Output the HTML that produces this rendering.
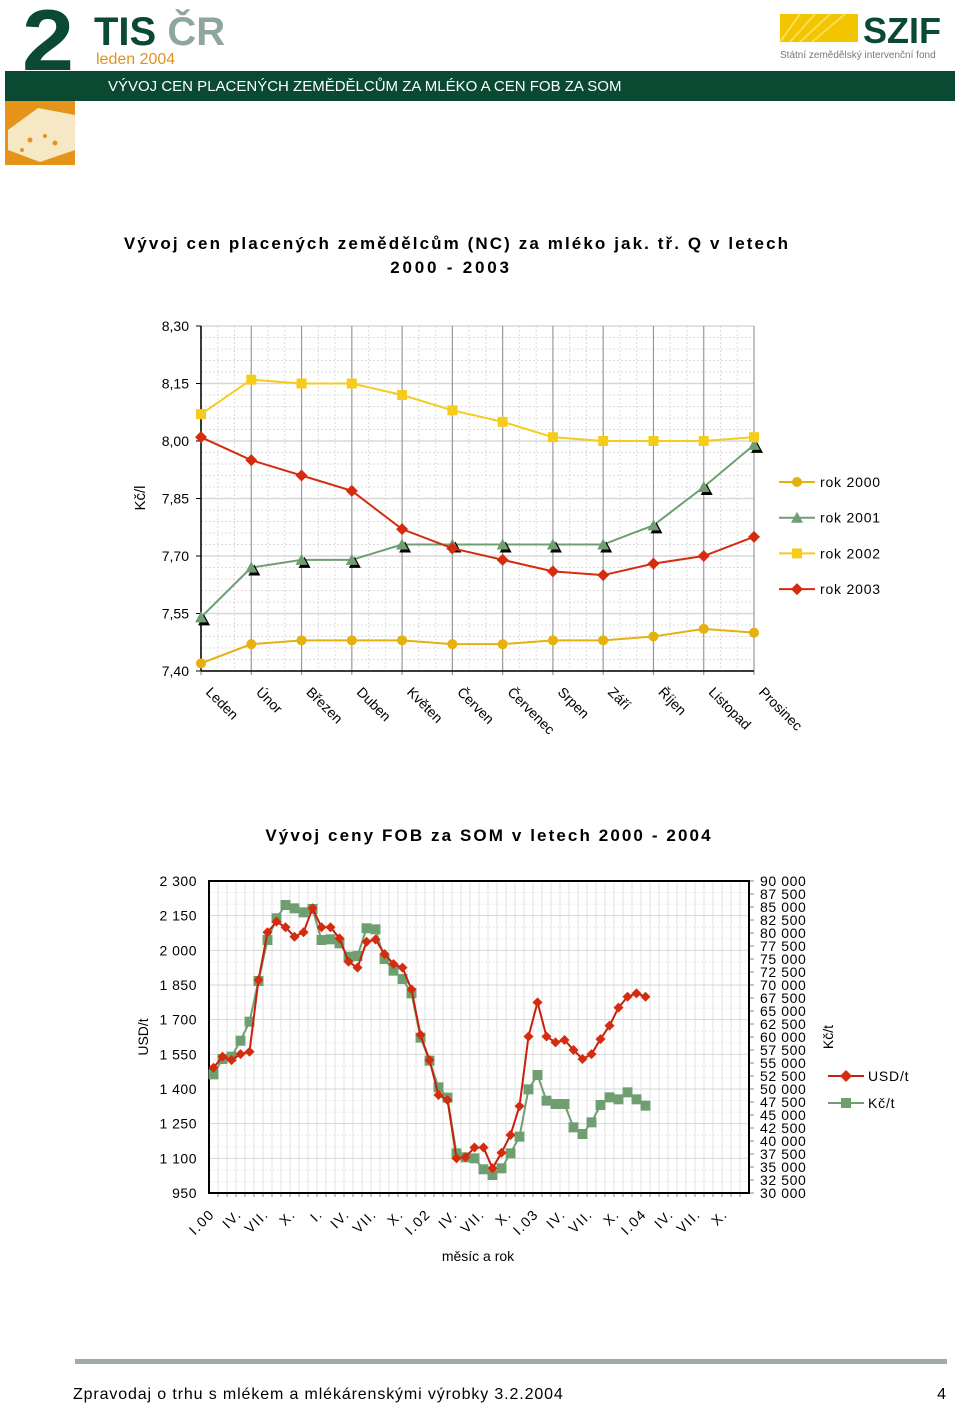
<!DOCTYPE html>
<html><head><meta charset="utf-8">
<style>
html,body{margin:0;padding:0;background:#fff;}
body{width:960px;height:1405px;position:relative;overflow:hidden;font-family:"Liberation Sans",sans-serif;}
svg text{font-family:"Liberation Sans",sans-serif;}
</style></head>
<body>
<svg id="page" width="960" height="1405" viewBox="0 0 960 1405" xmlns="http://www.w3.org/2000/svg">
  <g>
    <text x="22" y="70" font-size="86" font-weight="bold" fill="#0b4a32" textLength="52" lengthAdjust="spacingAndGlyphs">2</text>
    <text x="94" y="45" font-size="40" font-weight="bold" fill="#0b4a32">TIS <tspan fill="#8fa5a0">ČR</tspan></text>
    <text x="96" y="64" font-size="16" fill="#e0921e">leden 2004</text>
    <rect x="5" y="71" width="950" height="30" fill="#0b4a32"/>
    <text x="108" y="91" font-size="15" fill="#fff">VÝVOJ CEN PLACENÝCH ZEMĚDĚLCŮM ZA MLÉKO A CEN FOB ZA SOM</text>
    <rect x="5" y="101" width="70" height="64" fill="#e59419"/>
    <polygon points="8,130 38,108 75,115 75,150 40,162 8,150" fill="#f6e7c5"/>
    <circle cx="30" cy="140" r="2.5" fill="#e59419"/><circle cx="45" cy="136" r="2" fill="#e59419"/><circle cx="55" cy="143" r="2.5" fill="#e59419"/><circle cx="22" cy="150" r="2" fill="#e59419"/>
    <rect x="780" y="14" width="78" height="28" fill="#f2c500"/>
    <path d="M780 42 L800 14 M790 42 L815 14 M800 42 L830 14 M812 42 L845 14" stroke="#f8dd55" stroke-width="2"/>
    <text x="863" y="43" font-size="36" font-weight="bold" fill="#0b4a32">SZIF</text>
    <text x="780" y="58" font-size="10" fill="#777">Státní zemědělský intervenční fond</text>
  </g>

  <g id="chart1">
    <text x="457" y="249" font-size="17" font-weight="bold" text-anchor="middle" letter-spacing="2.1">Vývoj cen placených zemědělcům (NC) za mléko jak. tř. Q v letech</text>
    <text x="451" y="273" font-size="17" font-weight="bold" text-anchor="middle" letter-spacing="2.8">2000 - 2003</text>
    <text transform="translate(145,498) rotate(-90)" font-size="15" text-anchor="middle">Kč/l</text>
  </g>

  <g id="chart2">
    <text x="489" y="841" font-size="17" font-weight="bold" text-anchor="middle" letter-spacing="2.1">Vývoj ceny FOB za SOM v letech 2000 - 2004</text>
    <text transform="translate(148,1037) rotate(-90)" font-size="14" text-anchor="middle">USD/t</text>
    <text transform="translate(833,1037) rotate(-90)" font-size="14" text-anchor="middle">Kč/t</text>
    <text x="478" y="1261" font-size="14" text-anchor="middle">měsíc a rok</text>
  </g>

  <g>
    <rect x="75" y="1359" width="872" height="5" fill="#a0aaa8"/>
    <text x="73" y="1399" font-size="16" letter-spacing="0.87">Zpravodaj o trhu s mlékem a mlékárenskými výrobky 3.2.2004</text>
    <text x="946" y="1399" font-size="16" text-anchor="end">4</text>
  </g>
</svg>
<script>
// ---------- Chart 1 data ----------
const months1 = ["Leden","Únor","Březen","Duben","Květen","Červen","Červenec","Srpen","Září","Říjen","Listopad","Prosinec"];
const y1Ticks = ["7,40","7,55","7,70","7,85","8,00","8,15","8,30"];
const s2000 = [7.42,7.47,7.48,7.48,7.48,7.47,7.47,7.48,7.48,7.49,7.51,7.50];
const s2001 = [7.54,7.67,7.69,7.69,7.73,7.73,7.73,7.73,7.73,7.78,7.88,7.99];
const s2002 = [8.07,8.16,8.15,8.15,8.12,8.08,8.05,8.01,8.00,8.00,8.00,8.01];
const s2003 = [8.01,7.95,7.91,7.87,7.77,7.72,7.69,7.66,7.65,7.68,7.70,7.75];
// ---------- Chart 2 data ----------
const xLabels2 = ["I.00","IV.","VII.","X.","I.","IV.","VII.","X.","I.02","IV.","VII.","X.","I.03","IV.","VII.","X.","I.04","IV.","VII.","X."];
const usdTicks = ["950","1 100","1 250","1 400","1 550","1 700","1 850","2 000","2 150","2 300"];
const czkTicks = ["30 000","32 500","35 000","37 500","40 000","42 500","45 000","47 500","50 000","52 500","55 000","57 500","60 000","62 500","65 000","67 500","70 000","72 500","75 000","77 500","80 000","82 500","85 000","87 500","90 000"];
const usd = [1492,1540,1525,1551,1561,1872,2078,2124,2100,2059,2078,2182,2100,2100,2052,1951,1925,2037,2047,1984,1941,1925,1831,1634,1525,1374,1352,1100,1105,1147,1147,1057,1124,1201,1326,1627,1775,1627,1602,1612,1569,1530,1551,1616,1674,1752,1799,1814,1799];
const czk = [52821,55769,56218,59288,62943,70769,78654,82821,85385,84744,83974,84615,78654,78782,78013,75449,75577,80910,80705,75000,72756,71154,68397,59872,55449,50321,48333,37628,36859,36667,34551,33462,34744,37628,40833,49936,52692,47756,47115,47115,42628,41346,43590,46923,48397,48013,49359,48013,46795];

const NS="http://www.w3.org/2000/svg";
function mk(parent,tag,attrs){const e=document.createElementNS(NS,tag);for(const k in attrs)e.setAttribute(k,attrs[k]);parent.appendChild(e);return e;}

// ---------- Chart 1 ----------
(function(){
  const g=document.getElementById('chart1');
  const L=201,R=754,T=326,B=671,vmin=7.40,vmax=8.30;
  const x=i=>L+i*(R-L)/(months1.length-1);
  const y=v=>B-(v-vmin)/(vmax-vmin)*(B-T);
  for(let v=vmin;v<=vmax+1e-9;v+=0.03){
    const l=mk(g,'line',{x1:L,x2:R,y1:y(v),y2:y(v),stroke:'#dcdcdc','stroke-dasharray':'2,2','stroke-width':1});
    
    
  }
  for(let i=0;i<months1.length-1;i++){
    for(let k=1;k<3;k++){
      const xx=x(i)+k*(x(1)-x(0))/3;
      const l=mk(g,'line',{x1:xx,x2:xx,y1:T,y2:B,stroke:'#dcdcdc','stroke-dasharray':'2,2'});
      
      
    }
  }
  y1Ticks.forEach(t=>{
    const v=parseFloat(t.replace(',','.'));
    const l=mk(g,'line',{x1:L,x2:R,y1:y(v),y2:y(v),stroke:'#d8d8d8','stroke-width':1.5});
    
    
    const tk=mk(g,'line',{x1:L-5,x2:L,y1:y(v),y2:y(v),stroke:'#000'});
    
    
    const tx=mk(g,'text',{x:189,y:y(v)+5,'font-size':14,'text-anchor':'end'});
    tx.textContent=t;
    
    
  });
  months1.forEach((m,i)=>{
    const l=mk(g,'line',{x1:x(i),x2:x(i),y1:T,y2:B+4,stroke:'#999','stroke-width':1.2});
    
    
    const tx=mk(g,'text',{transform:`translate(${x(i)+4},${B+22}) rotate(45)`,'font-size':14});
    tx.textContent=m;
    
    
  });
  const ax=mk(g,'line',{x1:L,x2:L,y1:T,y2:B,stroke:'#000','stroke-width':1.5});
  
  
  const bx=mk(g,'line',{x1:L,x2:R,y1:B,y2:B,stroke:'#000','stroke-width':1.5});
  
  

  function series(data,color,shape,name){
    const pl=mk(g,'polyline',{points:data.map((v,i)=>x(i)+','+y(v)).join(' '),fill:'none',stroke:color,'stroke-width':2});
    
    
    data.forEach((v,i)=>{drawMarker(g,shape,x(i),y(v),color,name);});
  }
  series(s2000,'#e5b10c','circle','rok-2000');
  series(s2001,'#6f9f70','triangle','rok-2001');
  series(s2002,'#f6cc1b','square','rok-2002');
  series(s2003,'#d52b0e','diamond','rok-2003');

  const leg=[['rok 2000','#e5b10c','circle'],['rok 2001','#6f9f70','triangle2'],['rok 2002','#f6cc1b','square'],['rok 2003','#d52b0e','diamond']];
  leg.forEach((d,i)=>{
    const yy=482+i*35.7;
    const l=mk(g,'line',{x1:779,x2:815,y1:yy,y2:yy,stroke:d[1],'stroke-width':2});
    
    
    drawMarker(g,d[2],797,yy,d[1],'legend');
    const tx=mk(g,'text',{x:820,y:yy+5,'font-size':14,'letter-spacing':0.8});
    tx.textContent=d[0];
    
    
  });
})();

function drawMarker(g,shape,cx,cy,color,name){
  let e;
  if(shape==='circle'){e=mk(g,'circle',{cx:cx,cy:cy,r:5,fill:color});}
  else if(shape==='square'){e=mk(g,'rect',{x:cx-5,y:cy-5,width:10,height:10,fill:color});}
  else if(shape==='diamond'){e=mk(g,'polygon',{points:`${cx},${cy-6} ${cx+6},${cy} ${cx},${cy+6} ${cx-6},${cy}`,fill:color});}
  else if(shape==='triangle'){
    const s=mk(g,'polygon',{points:`${cx+3},${cy-3} ${cx+9},${cy+8} ${cx-3},${cy+8}`,fill:'#000'});
    
    
    e=mk(g,'polygon',{points:`${cx},${cy-6} ${cx+6},${cy+5} ${cx-6},${cy+5}`,fill:color});
  }
  else if(shape==='triangle2'){e=mk(g,'polygon',{points:`${cx},${cy-6} ${cx+6},${cy+5} ${cx-6},${cy+5}`,fill:color});}
  
  
}

// ---------- Chart 2 ----------
(function(){
  const g=document.getElementById('chart2');
  const L=209,R=749,T=881,B=1193,nCat=60,umin=950,umax=2300,cmin=30000,cmax=90000;
  const cw=(R-L)/nCat;
  const x=i=>L+cw*(i+0.5);
  const yU=v=>B-(v-umin)/(umax-umin)*(B-T);
  const yC=v=>B-(v-cmin)/(cmax-cmin)*(B-T);
  for(let i=1;i<nCat;i++){
    const l=mk(g,'line',{x1:L+i*cw,x2:L+i*cw,y1:T,y2:B,stroke:'#e2e2e2'});
    
    
    const tk=mk(g,'line',{x1:L+i*cw,x2:L+i*cw,y1:B,y2:B+4,stroke:'#888'});
    
    
  }
  for(let v=umin;v<=umax;v+=50){
    const major=(v-umin)%150===0;
    const l=mk(g,'line',{x1:L,x2:R,y1:yU(v),y2:yU(v),stroke:major?'#d6d6d6':'#e8e8e8','stroke-dasharray':major?'none':'2,2'});
    
    
  }
  usdTicks.forEach(t=>{
    const v=parseFloat(t.replace(' ',''));
    const tx=mk(g,'text',{x:197,y:yU(v)+5,'font-size':14,'text-anchor':'end','letter-spacing':0.5});
    tx.textContent=t;
    
    
  });
  czkTicks.forEach(t=>{
    const v=parseFloat(t.replace(' ',''));
    const tk=mk(g,'line',{x1:R,x2:R+5,y1:yC(v),y2:yC(v),stroke:'#888'});
    
    
    const tx=mk(g,'text',{x:760,y:yC(v)+5,'font-size':14,'letter-spacing':0.6});
    tx.textContent=t;
    
    
  });
  xLabels2.forEach((t,k)=>{
    const xi=x(k*3);
    const tx=mk(g,'text',{transform:`translate(${xi+2},${B+22}) rotate(-45)`,'font-size':14,'text-anchor':'end','letter-spacing':1.5});
    tx.textContent=t;
    
    
  });
  const fr=mk(g,'rect',{x:L,y:T,width:R-L,height:B-T,fill:'none',stroke:'#000','stroke-width':2});
  
  

  const gl=mk(g,'polyline',{points:czk.map((v,i)=>x(i)+','+yC(v)).join(' '),fill:'none',stroke:'#6f9f70','stroke-width':2});
  
  
  czk.forEach((v,i)=>{
    const m=mk(g,'rect',{x:x(i)-5,y:yC(v)-5,width:10,height:10,fill:'#6f9f70'});
    
    
  });
  const rl=mk(g,'polyline',{points:usd.map((v,i)=>x(i)+','+yU(v)).join(' '),fill:'none',stroke:'#c7200c','stroke-width':2});
  
  
  usd.forEach((v,i)=>{
    const cx=x(i),cy=yU(v);
    const m=mk(g,'polygon',{points:`${cx},${cy-5} ${cx+5},${cy} ${cx},${cy+5} ${cx-5},${cy}`,fill:'#d52b0e'});
    
    
  });
  const l1=mk(g,'line',{x1:828,x2:864,y1:1076,y2:1076,stroke:'#c7200c','stroke-width':2});
  
  
  const d1=mk(g,'polygon',{points:'846,1070 852,1076 846,1082 840,1076',fill:'#d52b0e'});
  
  
  const t1=mk(g,'text',{x:868,y:1081,'font-size':14,'letter-spacing':0.8});
  t1.textContent='USD/t';
  
  
  const l2=mk(g,'line',{x1:828,x2:864,y1:1103,y2:1103,stroke:'#6f9f70','stroke-width':2});
  
  
  const s2=mk(g,'rect',{x:841,y:1098,width:10,height:10,fill:'#6f9f70'});
  
  
  const t2=mk(g,'text',{x:868,y:1108,'font-size':14,'letter-spacing':0.8});
  t2.textContent='Kč/t';
  
  
})();
</script>
</body></html>
